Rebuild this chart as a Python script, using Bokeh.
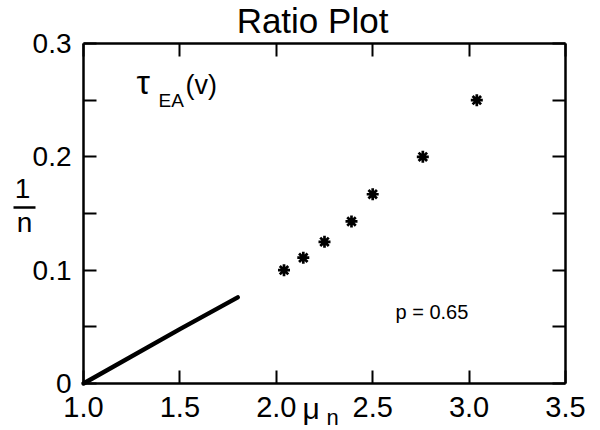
from bokeh.plotting import figure
from bokeh.models import Range1d, FixedTicker, LinearAxis, Label, Arrow
from bokeh.embed import file_html
from bokeh.resources import INLINE

# ---- data ----
mu_n = [2.04, 2.14, 2.25, 2.39, 2.50, 2.76, 3.04]
inv_n = [0.100, 0.111, 0.125, 0.143, 0.167, 0.200, 0.250]
line_mu = [1.0, 1.5, 1.8]
line_inv = [0.0, 0.048, 0.076]
x_ticks = [1.0, 1.5, 2.0, 2.5, 3.0, 3.5]
x_tick_labels = ["1.0", "1.5", "2.0", "2.5", "3.0", "3.5"]
y_ticks = [0.0, 0.1, 0.2, 0.3]
y_minor = [0.05, 0.15, 0.25]
y_tick_labels = ["0", "0.1", "0.2", "0.3"]

FONT = "Liberation Sans"

# ---- layout: the frame covers the whole canvas; axes are pinned inside ----
W, H = 600, 430
OFF = 0
L, R, T, B = 83, 565, 43, 383  # wanted axis box in the picture
X0, X1, Y0, Y1 = 1.0, 3.5, 0.0, 0.3
sx = (X1 - X0) / (R - L)
sy = (Y1 - Y0) / (B - T)


def fx(px):
    return X0 + (px - L) * sx


def fy(py):
    return Y0 + (B - py) * sy


p = figure(width=W, height=H, output_backend="svg", toolbar_location=None,
           x_range=Range1d(fx(OFF), fx(OFF + W)),
           y_range=Range1d(fy(OFF + H), fy(OFF)),
           min_border=0, x_axis_type=None, y_axis_type=None)
p.grid.visible = False
p.outline_line_color = None
p.background_fill_color = "white"
p.border_fill_color = "white"

xt = FixedTicker(ticks=x_ticks, minor_ticks=[])
yt = FixedTicker(ticks=y_ticks, minor_ticks=y_minor)


def make_axis(ticker, loc, ticks, labels, show):
    ax = LinearAxis(ticker=ticker, fixed_location=loc, bounds=(ticks[0], ticks[-1]))
    ax.axis_line_width = 2.5
    ax.axis_line_color = "black"
    ax.major_tick_in = 13
    ax.major_tick_out = 0
    ax.minor_tick_in = 13
    ax.minor_tick_out = 0
    ax.major_tick_line_width = 2
    ax.minor_tick_line_width = 2
    ax.major_tick_line_color = "black"
    ax.minor_tick_line_color = "black"
    ax.major_label_text_font = FONT
    ax.major_label_text_color = "black"
    if show:
        ax.major_label_overrides = {t: s for t, s in zip(ticks, labels)}
    else:
        ax.major_label_overrides = {t: "" for t in ticks}
    return ax


xa = make_axis(xt, Y0, x_ticks, x_tick_labels, True)
xa.major_label_text_font_size = "29px"
xa.major_label_standoff = 13
p.add_layout(xa, "below")

ya = make_axis(yt, X0, y_ticks, y_tick_labels, True)
ya.major_label_text_font_size = "28px"
ya.major_label_standoff = 12
p.add_layout(ya, "left")

p.add_layout(make_axis(xt, Y1, x_ticks, x_tick_labels, False), "above")
p.add_layout(make_axis(yt, X1, y_ticks, y_tick_labels, False), "right")

# ---- data marks ----
p.line(line_mu, line_inv, line_width=4.5, color="black", line_cap="round")
p.scatter(mu_n, inv_n, marker="asterisk", size=12, line_width=2.7, color="black")


# ---- texts (px, py = left/centre x and baseline y in the picture) ----
def lab(px, py, t, size, align="left"):
    p.add_layout(Label(x=fx(px), y=fy(py - 0.35 * size), text=t, text_font=FONT,
                       text_font_size=f"{size}px", text_color="black",
                       text_align=align, text_baseline="alphabetic"))


lab(312, 32, "Ratio Plot", 35, "center")
lab(136, 93, "τ", 34)
lab(158, 107, "EA", 19)
lab(185, 94, "(v)", 27)
lab(395, 318, "p = 0.65", 20)
lab(302, 418, "μ", 30)
lab(326, 425, "n", 22)
lab(22, 198, "1", 28, "center")
lab(24, 232, "n", 28, "center")
p.add_layout(Arrow(end=None, x_start=fx(13), y_start=fy(207), x_end=fx(35),
                   y_end=fy(207), line_width=2.5, line_color="black"))

open("out.html", "w").write(file_html(p, INLINE))
